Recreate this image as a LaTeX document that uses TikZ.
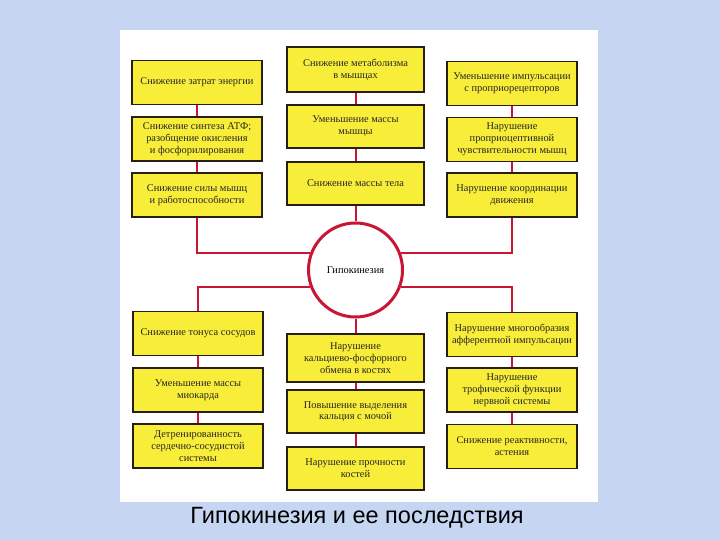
\documentclass[tikz,border=0pt]{standalone}
\usepackage{fontspec}
\setmainfont{Liberation Serif}
\newfontfamily\capfont{Liberation Sans}
\definecolor{bgblue}{RGB}{198,214,242}
\definecolor{boxyellow}{RGB}{248,238,58}
\definecolor{linered}{RGB}{200,22,52}
\definecolor{boxedge}{RGB}{40,30,20}
\tikzset{
  fx/.style={draw=boxedge, line width=1.4pt, fill=boxyellow, inner sep=0pt,
    align=center, font=\fontsize{10.4}{11.8}\selectfont, text=black!85},
  lw/.style={fx, minimum width=130pt, minimum height=44pt},
  mw/.style={fx, minimum width=137pt, minimum height=43pt},
  conn/.style={draw=linered, line width=2pt},
}
\begin{document}
\begin{tikzpicture}[x=1pt,y=-1pt]
\useasboundingbox (0,0) rectangle (720,540);
\fill[bgblue] (0,0) rectangle (720,540);
\fill[white] (120,30) rectangle (598,502);

% centre circle
\node[circle, draw=linered, line width=3pt, fill=white, minimum size=94pt,
  inner sep=0pt, font=\fontsize{10.4}{11.8}\selectfont] (hk) at (355.5,270) {Гипокинезия};

% top left column
\node[lw] (L1) at (197,82.5) {Снижение затрат энергии};
\node[lw] (L2) at (197,139) {Снижение синтеза АТФ;\\разобщение окисления\\и фосфорилирования};
\node[lw] (L3) at (197,195) {Снижение силы мышц\\и работоспособности};
% top middle column
\node[mw, minimum height=45pt] (M1) at (355.5,69.5) {Снижение метаболизма\\в мышцах};
\node[mw] (M2) at (355.5,126.5) {Уменьшение массы\\мышцы};
\node[mw] (M3) at (355.5,183.5) {Снижение массы тела};
% top right column
\node[lw] (R1) at (512,83.5) {Уменьшение импульсации\\с проприорецепторов};
\node[lw] (R2) at (512,139.5) {Нарушение\\проприоцептивной\\чувствительности мышц};
\node[lw] (R3) at (512,195) {Нарушение координации\\движения};

% bottom left column
\node[lw] (BL1) at (198,333.5) {Снижение тонуса сосудов};
\node[lw] (BL2) at (198,390) {Уменьшение массы\\миокарда};
\node[lw] (BL3) at (198,446) {Детренированность\\сердечно-сосудистой\\системы};
% bottom middle column
\node[mw, minimum height=48pt] (BM1) at (355.5,358) {Нарушение\\кальциево-фосфорного\\обмена в костях};
\node[mw] (BM2) at (355.5,411.5) {Повышение выделения\\кальция с мочой};
\node[mw] (BM3) at (355.5,468.5) {Нарушение прочности\\костей};
% bottom right column
\node[lw] (BR1) at (512,334.5) {Нарушение многообразия\\афферентной импульсации};
\node[lw] (BR2) at (512,390) {Нарушение\\трофической функции\\нервной системы};
\node[lw] (BR3) at (512,446.5) {Снижение реактивности,\\астения};

% connectors
\draw[conn] (L1) -- (L2); \draw[conn] (L2) -- (L3);
\draw[conn] (M1) -- (M2); \draw[conn] (M2) -- (M3);
\draw[conn] (R1) -- (R2); \draw[conn] (R2) -- (R3);
\draw[conn] (BL1) -- (BL2); \draw[conn] (BL2) -- (BL3);
\draw[conn] (BM1) -- (BM2); \draw[conn] (BM2) -- (BM3);
\draw[conn] (BR1) -- (BR2); \draw[conn] (BR2) -- (BR3);
\draw[conn] (L3.south) |- (hk.160);
\draw[conn] (R3.south) |- (hk.20);
\draw[conn] (M3.south) -- (hk.north);
\draw[conn] (BL1.north) |- (hk.200);
\draw[conn] (BR1.north) |- (hk.340);
\draw[conn] (hk.south) -- (BM1.north);

% caption
\node[font=\capfont\fontsize{23.5}{27}\selectfont, text=black] (cap) at (357,518) {Гипокинезия и ее последствия};
\end{tikzpicture}
\end{document}
